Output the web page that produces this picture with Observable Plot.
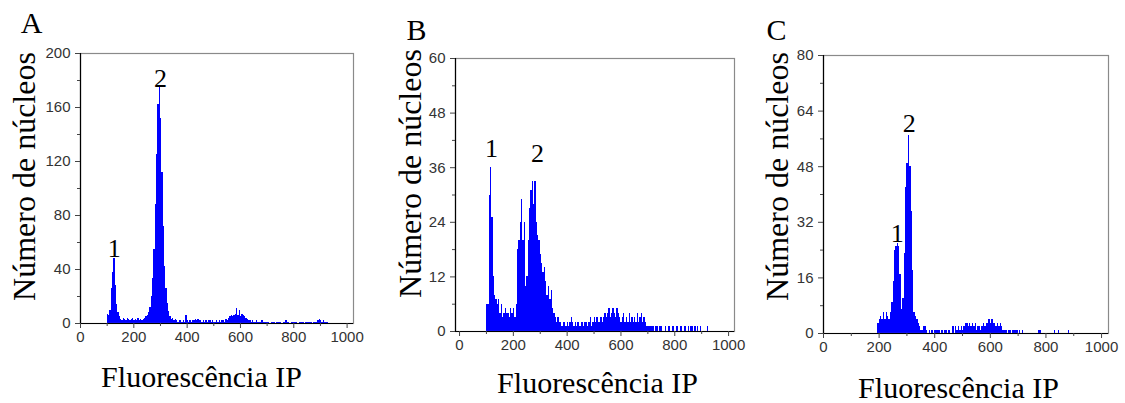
<!DOCTYPE html>
<html>
<head>
<meta charset="utf-8">
<script src="https://cdn.jsdelivr.net/npm/d3@7"></script>
<script src="https://cdn.jsdelivr.net/npm/@observablehq/plot@0.6"></script>
<style>
  body { margin: 0; background: #fff; }
  #wrap { position: relative; width: 1125px; height: 403px; overflow: hidden; }
  .panel { position: absolute; top: 0; width: 375px; height: 403px; }
</style>
</head>
<body>
<div id="wrap"></div>
<script>
// ---- data (histogram channel counts, bins of 5 units) ----
const binWidth = 5;
const xTicks = [0, 200, 400, 600, 800, 1000];
const xMinorTicks = [100, 300, 500, 700, 900];
const xTitle = "Fluorescência IP";
const yTitle = "Número de núcleos";

// Panel A
const startA = 100;
const countsA = [
  7, 6, 10, 26, 38, 48, 28, 14, 8, 5,
  3, 2, 4, 3, 2, 4, 3, 2, 3, 4,
  2, 3, 2, 4, 2, 3, 2, 3, 4, 5,
  6, 8, 12, 20, 33, 55, 88, 125, 162, 176,
  152, 112, 72, 42, 26, 15, 9, 5, 3, 4,
  2, 3, 2, 1, 2, 2, 1, 2, 1, 6,
  2, 1, 2, 1, 2, 2, 3, 2, 3, 2,
  2, 1, 2, 1, 2, 1, 2, 2, 1, 2,
  1, 1, 2, 1, 2, 1, 2, 2, 1, 3,
  2, 4, 5, 6, 5, 6, 7, 11, 6, 10,
  5, 7, 6, 5, 4, 3, 2, 2, 1, 2,
  1, 1, 2, 1, 1, 1, 2, 1, 1, 1,
  1, 1, 0, 1, 1, 1, 0, 1, 1, 1,
  1, 0, 1, 1, 2, 1, 1, 0, 1, 1,
  1, 1, 1, 0, 1, 1, 1, 1, 0, 1,
  1, 1, 1, 1, 0, 1, 1, 1, 2, 3,
  2, 1, 2, 1, 1, 1
];
const yTicksA = [0, 40, 80, 120, 160, 200];
const yMinorA = [20, 60, 100, 140, 180];
const peaksA = [{t: "1", x: 127, y: 55.5}, {t: "2", x: 300, y: 181}];

// Panel B
const startB = 100;
const countsB = [
  6, 6, 30, 36, 25, 12, 8, 7, 6, 7,
  4, 6, 3, 4, 5, 4, 4, 3, 5, 4,
  5, 3, 6, 18, 20, 24, 29, 20, 24, 10,
  12, 20, 27, 31, 33, 28, 33, 24, 21, 20,
  17, 15, 13, 14, 11, 8, 10, 7, 9, 5,
  4, 3, 2, 3, 2, 2, 1, 2, 2, 1,
  2, 1, 2, 3, 2, 1, 2, 1, 2, 1,
  1, 2, 1, 2, 2, 1, 2, 3, 1, 2,
  3, 2, 3, 2, 2, 3, 2, 3, 4, 3,
  4, 5, 3, 4, 5, 4, 3, 5, 4, 3,
  2, 3, 4, 2, 3, 2, 4, 2, 3, 2,
  3, 2, 4, 2, 3, 4, 2, 3, 2, 1,
  1, 1, 1, 1, 1, 0, 1, 1, 0, 1,
  1, 0, 0, 1, 0, 1, 1, 0, 1, 1,
  0, 1, 1, 0, 1, 1, 0, 1, 1, 0,
  1, 0, 1, 1, 0, 1, 0, 1, 0, 1,
  0, 0, 0, 0, 1
];
const yTicksB = [0, 12, 24, 36, 48, 60];
const yMinorB = [6, 18, 30, 42, 54];
const peaksB = [{t: "1", x: 119, y: 40.2}, {t: "2", x: 290, y: 39.1}];

// Panel C
const startC = 195;
const countsC = [
  3, 4, 5, 4, 6, 4, 6, 5, 4, 6,
  9, 15, 24, 25, 26, 25, 17, 7, 10, 23,
  42, 49, 57, 48, 35, 18, 6, 5, 4, 3,
  2, 1, 1, 2, 2, 1, 0, 1, 0, 1,
  0, 1, 1, 1, 1, 0, 1, 0, 1, 1,
  0, 1, 0, 0, 2, 0, 2, 1, 2, 1,
  2, 1, 2, 3, 3, 2, 3, 2, 3, 2,
  3, 1, 2, 2, 1, 2, 3, 2, 3, 3,
  4, 3, 4, 3, 3, 2, 3, 2, 3, 2,
  1, 1, 1, 0, 1, 1, 0, 1, 1, 1,
  1, 0, 1, 0, 1, 0, 0, 0, 0, 0,
  0, 0, 0, 0, 0, 0, 1, 1, 0, 0,
  0, 0, 0, 0, 0, 0, 0, 1, 0, 0,
  1, 0, 0, 0, 0, 0, 0, 1
];
const yTicksC = [0, 16, 32, 48, 64, 80];
const yMinorC = [8, 24, 40, 56, 72];
const peaksC = [{t: "1", x: 265, y: 28.8}, {t: "2", x: 308, y: 60.4}];

// ---- drawing ----
const serif = "'Liberation Serif', 'Times New Roman', Times, serif";
const sans = "'Liberation Sans', Arial, Helvetica, sans-serif";

function panel(cfg) {
  const bins = cfg.counts.map((n, i) => ({
    x1: cfg.start + i * binWidth,
    x2: cfg.start + (i + 1) * binWidth,
    n
  }));
  const centered = {frameAnchor: "top-left", textAnchor: "middle", lineAnchor: "middle", fontFamily: serif, fill: "#000"};
  return Plot.plot({
    width: 375,
    height: 403,
    marginLeft: cfg.margins[0],
    marginRight: cfg.margins[1],
    marginTop: cfg.margins[2],
    marginBottom: cfg.margins[3],
    x: {domain: cfg.xDomain, label: null},
    y: {domain: [0, cfg.yTicks[cfg.yTicks.length - 1]], label: null},
    style: {fontFamily: sans, background: "transparent", color: "#333", overflow: "visible"},
    marks: [
      Plot.rectY(bins, {x1: "x1", x2: "x2", y: "n", fill: "#0000ff", shapeRendering: "crispEdges"}),
      Plot.frame({stroke: "#8a8a8a", strokeWidth: 1.2}),
      Plot.ruleX([cfg.xDomain[0]], {stroke: "#000", strokeWidth: 1.2}),
      Plot.ruleY([0], {stroke: "#000", strokeWidth: 1.2}),
      Plot.axisX(xTicks, {tickSize: 5, tickPadding: 3, fontSize: 15, label: null, stroke: "#444", tickFormat: d => String(d)}),
      Plot.axisX(xMinorTicks, {tickSize: 3, tickFormat: () => "", label: null, stroke: "#444"}),
      Plot.axisY(cfg.yTicks, {tickSize: 5, tickPadding: 5, fontSize: 15, label: null, stroke: "#444", tickFormat: d => String(d)}),
      Plot.axisY(cfg.yMinor, {tickSize: 3, tickFormat: () => "", label: null, stroke: "#444"}),
      Plot.text(cfg.peaks, {x: "x", y: "y", text: "t", fontFamily: serif, fontSize: 26, fill: "#000", lineAnchor: "middle"}),
      Plot.text([yTitle], {...centered, dx: cfg.yTitlePos[0], dy: cfg.yTitlePos[1], rotate: -90, fontSize: 32}),
      Plot.text([xTitle], {...centered, dx: cfg.xTitlePos[0], dy: cfg.xTitlePos[1], fontSize: 30}),
      Plot.text([cfg.letter], {...centered, dx: cfg.letterPos[0], dy: cfg.letterPos[1], fontSize: 30})
    ]
  });
}

const configs = [
  {letter: "A", start: startA, counts: countsA, xDomain: [0, 1024], yTicks: yTicksA, yMinor: yMinorA, peaks: peaksA,
   margins: [80, 22, 53, 80], yTitlePos: [-56, 123], xTitlePos: [121, 324], letterPos: [-49, -30]},
  {letter: "B", start: startB, counts: countsB, xDomain: [-15, 1022], yTicks: yTicksB, yMinor: yMinorB, peaks: peaksB,
   margins: [80, 16, 58, 72], yTitlePos: [-45, 115], xTitlePos: [142, 325], letterPos: [-39, -28]},
  {letter: "C", start: startC, counts: countsC, xDomain: [0, 1025], yTicks: yTicksC, yMinor: yMinorC, peaks: peaksC,
   margins: [73, 17, 55, 70], yTitlePos: [-46, 121], xTitlePos: [135, 333], letterPos: [-47, -25]}
];

const wrap = document.getElementById("wrap");
configs.forEach((cfg, i) => {
  const div = document.createElement("div");
  div.className = "panel";
  div.style.left = (i * 375) + "px";
  div.appendChild(panel(cfg));
  wrap.appendChild(div);
});
</script>
</body>
</html>
